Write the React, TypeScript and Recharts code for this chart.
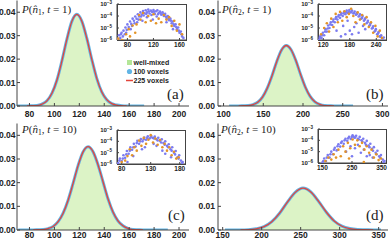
import React from 'react';
import {
  ComposedChart,
  Area,
  Line,
  XAxis,
  YAxis,
  ScatterChart,
  Scatter,
  Legend,
} from 'recharts';

// ---- main panels: probability curves ----
const nA = [70, 74, 78, 82, 86, 90, 94, 98, 102, 106, 110, 114, 118, 122, 126, 130, 134, 138, 142, 146, 150, 154, 158, 162, 166, 172];
const vox100A = [0, 0, 0, 0.0001, 0.0002, 0.0008, 0.0022, 0.0054, 0.011, 0.0192, 0.0284, 0.0361, 0.0391, 0.0362, 0.0289, 0.0199, 0.0118, 0.006, 0.0027, 0.001, 0.0004, 0.0001, 0, 0, 0, 0];
const vox225A = [null, null, 0, 0.0001, 0.0002, 0.0008, 0.0022, 0.0054, 0.011, 0.0192, 0.0284, 0.0361, 0.0391, 0.0362, 0.0289, 0.0199, 0.0118, 0.006, 0.0027, 0.001, 0.0004, 0.0001, 0, null, null, null];
const wellA = [null, null, 0, 0.0001, 0.0002, 0.0008, 0.0022, 0.0054, 0.011, 0.0192, 0.0284, 0.0361, 0.0391, 0.0362, 0.0289, 0.0199, 0.0118, 0.006, 0.0027, 0.001, 0.0004, 0.0001, 0, null, null, null];

const nB = [107, 113, 119, 125, 131, 137, 143, 149, 155, 161, 167, 173, 179, 185, 191, 197, 203, 209, 215, 221, 227, 233, 239, 245, 251, 257, 263];
const vox100B = [0, 0, 0, 0.0001, 0.0002, 0.0006, 0.0016, 0.0038, 0.0076, 0.0129, 0.019, 0.0239, 0.0258, 0.024, 0.0194, 0.0134, 0.008, 0.0041, 0.0018, 0.0007, 0.0002, 0.0001, 0, 0, 0, 0, 0];
const vox225B = [null, null, 0, 0.0001, 0.0002, 0.0006, 0.0016, 0.0038, 0.0076, 0.0129, 0.019, 0.0239, 0.0258, 0.024, 0.0194, 0.0134, 0.008, 0.0041, 0.0018, 0.0007, 0.0002, 0.0001, 0, null, null, null, null];
const wellB = [null, null, 0, 0.0001, 0.0002, 0.0006, 0.0016, 0.0038, 0.0076, 0.0129, 0.019, 0.0239, 0.0258, 0.024, 0.0194, 0.0134, 0.008, 0.0041, 0.0018, 0.0007, 0.0002, 0.0001, 0, null, null, null, null];

const nC = [71, 75, 79, 83, 87, 91, 95, 99, 103, 107, 111, 115, 119, 123, 127, 131, 135, 139, 143, 147, 151, 155, 159, 163, 167, 171, 175, 179, 183, 187, 191];
const vox100C = [0, 0, 0, 0, 0.0001, 0.0002, 0.0006, 0.0015, 0.0035, 0.0071, 0.0126, 0.0197, 0.0272, 0.033, 0.0352, 0.0331, 0.0276, 0.0204, 0.0132, 0.0076, 0.0039, 0.0018, 0.0007, 0.0002, 0.0001, 0, 0, 0, 0, 0, 0];
const vox225C = [null, null, null, 0, 0.0001, 0.0002, 0.0006, 0.0015, 0.0035, 0.0071, 0.0126, 0.0197, 0.0272, 0.033, 0.0352, 0.0331, 0.0276, 0.0204, 0.0132, 0.0076, 0.0039, 0.0018, 0.0007, 0.0002, 0.0001, 0, null, null, null, null, null];
const wellC = [null, null, null, 0, 0.0001, 0.0002, 0.0006, 0.0015, 0.0035, 0.0071, 0.0126, 0.0197, 0.0272, 0.033, 0.0352, 0.0331, 0.0276, 0.0204, 0.0132, 0.0076, 0.0039, 0.0018, 0.0007, 0.0002, 0.0001, 0, null, null, null, null, null];

const nD = [153, 163, 173, 183, 193, 203, 213, 223, 233, 243, 253, 263, 273, 283, 293, 303, 313, 323, 333, 343, 353];
const vox100D = [0, 0, 0, 0.0001, 0.0005, 0.0014, 0.0035, 0.0071, 0.0118, 0.0159, 0.0177, 0.0161, 0.0121, 0.0075, 0.0038, 0.0016, 0.0006, 0.0002, 0.0001, 0, 0];
const vox225D = [null, null, 0, 0.0001, 0.0005, 0.0014, 0.0035, 0.0071, 0.0118, 0.0159, 0.0177, 0.0161, 0.0121, 0.0075, 0.0038, 0.0016, 0.0006, 0.0002, 0.0001, 0, null];
const wellD = [null, null, 0, 0.0001, 0.0005, 0.0014, 0.0035, 0.0071, 0.0118, 0.0159, 0.0177, 0.0161, 0.0121, 0.0075, 0.0038, 0.0016, 0.0006, 0.0002, 0.0001, 0, null];

const yTicks = [0, 0.01, 0.02, 0.03, 0.04];
const xTicksA = [80, 100, 120, 140, 160, 180, 200];
const xTicksB = [100, 150, 200, 250, 300];
const xTicksD = [150, 200, 250, 300, 350];

// ---- insets: log-scale error scatter ([n, value]) ----
const insetAPurple = [
  [65, 1.2e-6], [67, 2.5e-6], [69, 1.5e-6], [71, 4e-6], [73, 2e-6], [74, 6e-6], [76, 3e-6], [77, 1.1e-5], [79, 7e-6], [80, 2e-5],
  [82, 1.2e-5], [84, 3.5e-5], [86, 2.2e-5], [88, 6e-5], [90, 4e-5], [92, 9e-5], [94, 6e-5], [96, 1.4e-4], [98, 9e-5], [100, 2e-4],
  [102, 1.3e-4], [104, 2.6e-4], [106, 1.7e-4], [108, 3e-4], [110, 2e-4], [112, 3.4e-4], [114, 1.6e-4], [116, 2.8e-4], [118, 2.2e-4],
  [120, 3.2e-4], [122, 1.5e-4], [124, 2.5e-4], [126, 3e-4], [128, 1.8e-4], [130, 2.4e-4], [132, 1.3e-4], [134, 2e-4], [136, 1e-4],
  [138, 1.5e-4], [140, 7e-5], [142, 1e-4], [144, 4.5e-5], [146, 6e-5], [148, 2.5e-5], [150, 3.5e-5], [152, 1.5e-5], [154, 2e-5],
  [156, 8e-6], [158, 1.1e-5], [160, 4e-6], [162, 5e-6], [164, 2e-6], [110, 8e-5], [125, 9e-5], [95, 3e-5], [140, 3e-5], [85, 8e-6], [150, 8e-6],
  [70, 3e-6], [78, 4e-6], [87, 1.5e-5], [91, 2.5e-5], [97, 5e-5], [101, 9e-5], [105, 1.1e-4], [109, 1.5e-4], [113, 2.4e-4], [117, 1.2e-4],
  [121, 2.3e-4], [127, 1.4e-4], [131, 1.8e-4], [135, 1.4e-4], [139, 9e-5], [143, 6e-5], [147, 4e-5], [151, 2e-5], [155, 1.2e-5],
  [159, 6e-6], [163, 3e-6], [166, 1.5e-6], [119, 5e-5], [103, 4e-5],
];
const insetAOrange = [
  [66, 1.3e-6], [72, 1e-6], [78, 3e-6], [82, 8e-6], [84, 2e-6], [88, 1.6e-5], [92, 4e-6], [94, 2e-5], [98, 1.2e-4], [100, 5e-5],
  [104, 1.8e-4], [108, 3e-5], [112, 1e-4], [116, 4e-5], [120, 1.4e-4], [124, 2.5e-5], [128, 6e-5], [132, 3e-5], [136, 1.2e-4],
  [140, 5e-5], [144, 8e-5], [148, 1.5e-5], [152, 4e-5], [156, 6e-6], [160, 2e-5], [164, 3e-6],
];
const insetBPurple = [
  [110, 1e-6], [113, 2e-6], [116, 1.5e-6], [119, 4e-6], [122, 2.5e-6], [125, 8e-6], [128, 5e-6], [131, 1.6e-5], [134, 1e-5], [137, 3e-5],
  [140, 1.8e-5], [143, 5e-5], [146, 3e-5], [149, 8e-5], [152, 5e-5], [155, 1.2e-4], [158, 7e-5], [161, 1.7e-4], [164, 1e-4], [167, 2.2e-4],
  [170, 1.4e-4], [173, 2.8e-4], [176, 1.8e-4], [179, 3.2e-4], [182, 2e-4], [185, 2.9e-4], [188, 1.6e-4], [191, 2.4e-4], [194, 1.3e-4],
  [197, 1.9e-4], [200, 9e-5], [203, 1.4e-4], [206, 6e-5], [209, 1e-4], [212, 4e-5], [215, 6.5e-5], [218, 2.5e-5], [221, 4e-5],
  [224, 1.5e-5], [227, 2.5e-5], [230, 9e-6], [233, 1.4e-5], [236, 5e-6], [239, 8e-6], [242, 3e-6], [245, 4.5e-6], [248, 2e-6],
  [251, 2.5e-6], [254, 1.3e-6], [257, 1.6e-6], [160, 2e-6], [170, 3e-6], [180, 6e-6], [190, 1.2e-5], [200, 4e-6], [210, 1.5e-5], [165, 1.5e-5], [150, 6e-6],
  [112, 1.5e-6], [118, 2.5e-6], [124, 5e-6], [130, 9e-6], [136, 2e-5], [142, 3.5e-5], [148, 6e-5], [154, 9e-5], [160, 1.3e-4],
  [166, 1.6e-4], [172, 2e-4], [178, 2.3e-4], [184, 2.2e-4], [190, 1.8e-4], [196, 1.5e-4], [202, 1e-4], [208, 7e-5], [214, 5e-5],
  [220, 3e-5], [226, 1.8e-5], [232, 1e-5], [238, 6e-6], [244, 3.5e-6], [250, 1.8e-6], [175, 4e-5], [195, 2.5e-5], [215, 8e-6], [185, 3e-6],
];
const insetBOrange = [
  [115, 3e-6], [122, 1e-5], [128, 2.5e-5], [133, 5e-6], [138, 6e-5], [143, 1.2e-5], [148, 1.5e-4], [153, 3e-5], [158, 2.2e-4], [163, 4e-5],
  [168, 2.5e-4], [173, 8e-5], [178, 1.5e-4], [183, 4e-4], [188, 1e-4], [193, 3e-5], [198, 2e-4], [203, 5e-5], [208, 1.2e-4], [213, 2e-5],
  [218, 8e-5], [223, 1.2e-5], [228, 3e-5], [233, 4e-6], [238, 1.5e-5], [243, 2e-6], [248, 6e-6], [253, 1.5e-6],
];
const insetCPurple = [
  [74, 1.2e-6], [77, 3e-6], [80, 1.8e-6], [83, 6e-6], [86, 3.5e-6], [89, 1.4e-5], [92, 8e-6], [95, 3e-5], [98, 1.8e-5], [101, 6e-5],
  [104, 3.5e-5], [107, 1.1e-4], [110, 6e-5], [113, 1.6e-4], [116, 1e-4], [119, 2.2e-4], [122, 1.4e-4], [125, 2.8e-4], [128, 1.8e-4],
  [131, 3e-4], [134, 2e-4], [137, 2.6e-4], [140, 1.5e-4], [143, 2.1e-4], [146, 1.1e-4], [149, 1.5e-4], [152, 7e-5], [155, 1e-4],
  [158, 4e-5], [161, 5.5e-5], [164, 2e-5], [167, 3e-5], [170, 1e-5], [173, 1.4e-5], [176, 4e-6], [179, 6e-6], [182, 2e-6], [185, 1.5e-6],
  [100, 5e-6], [120, 3e-5], [150, 1.5e-5], [165, 4e-6], [90, 1.5e-6], [140, 4e-5],
  [76, 2e-6], [82, 3e-6], [88, 7e-6], [94, 1.5e-5], [100, 3e-5], [106, 7e-5], [112, 1e-4], [118, 1.5e-4], [124, 2e-4], [130, 2.2e-4],
  [136, 1.8e-4], [142, 1.2e-4], [148, 8e-5], [154, 5e-5], [160, 3e-5], [166, 1.5e-5], [172, 7e-6], [178, 3e-6], [184, 1.2e-6],
  [115, 2e-5], [135, 6e-5], [155, 8e-6],
];
const insetCOrange = [
  [80, 1.5e-6], [86, 2e-6], [90, 5e-6], [94, 2e-5], [98, 6e-6], [102, 3e-5], [106, 1.5e-5], [110, 1.2e-4], [114, 4e-5], [118, 2e-4],
  [122, 6e-5], [126, 1.4e-4], [130, 3.5e-4], [134, 8e-5], [138, 1.8e-4], [142, 5e-5], [146, 1.3e-4], [150, 3e-5], [154, 6e-5],
  [158, 1.5e-5], [162, 3e-5], [166, 6e-6], [170, 1.2e-5], [174, 3e-6], [178, 4e-6],
];
const insetDPurple = [
  [150, 1.1e-6], [156, 2.5e-6], [162, 1.5e-6], [168, 5e-6], [174, 3e-6], [180, 1e-5], [186, 6e-6], [192, 2.2e-5], [198, 1.3e-5],
  [204, 4.5e-5], [210, 2.8e-5], [216, 8e-5], [222, 5e-5], [228, 1.4e-4], [234, 9e-5], [240, 2e-4], [246, 1.3e-4], [252, 2.8e-4],
  [258, 1.7e-4], [264, 2.5e-4], [270, 1.4e-4], [276, 2e-4], [282, 1e-4], [288, 1.4e-4], [294, 6e-5], [300, 9e-5], [306, 3.5e-5],
  [312, 5e-5], [318, 1.8e-5], [324, 2.5e-5], [330, 8e-6], [336, 1.2e-5], [342, 4e-6], [348, 5e-6], [354, 2e-6], [360, 1.5e-6],
  [230, 1e-5], [260, 2e-5], [280, 8e-6], [300, 4e-6], [250, 4e-6], [320, 3e-6], [270, 4e-5],
  [153, 1.5e-6], [165, 3e-6], [177, 6e-6], [189, 1.5e-5], [201, 3e-5], [213, 6e-5], [225, 1e-4], [237, 1.5e-4], [249, 2e-4],
  [255, 2.2e-4], [261, 1.8e-4], [273, 1.2e-4], [285, 8e-5], [297, 4e-5], [309, 2.5e-5], [321, 1.2e-5], [333, 6e-6], [345, 3e-6],
  [357, 1.2e-6], [245, 3e-5], [290, 1.5e-5], [310, 5e-6],
];
const insetDOrange = [
  [160, 1.5e-6], [170, 3e-6], [180, 2e-6], [188, 6e-6], [196, 3e-6], [204, 1.5e-5], [212, 4e-6], [220, 3e-5], [228, 1e-5], [236, 6e-5],
  [244, 2e-5], [252, 1.2e-4], [260, 4e-5], [268, 1e-4], [276, 3e-5], [284, 6e-5], [292, 1.5e-5], [300, 3e-5], [308, 8e-6], [316, 1.5e-5],
  [324, 3e-6], [332, 6e-6], [340, 1.8e-6], [348, 2.5e-6], [240, 2.5e-6], [290, 1.2e-6],
];
const logTicks = [1e-6, 1e-5, 1e-4, 1e-3];

const legendNames = ['well-mixed', '100 voxels', '225 voxels'];

const SANS = "'Liberation Sans', Arial, sans-serif";
const SERIF = "'Liberation Serif', 'Times New Roman', serif";
const FRAME = '#444';
const GREEN_FILL = '#dcf3c6';
const GREEN_SWATCH = '#b4e698';
const BLUE = '#62b5e5';
const RED = '#e2453c';
const ORANGE = '#e39428';
const PURPLE = '#7b7bf0';

const LegendBox = () => (
  <div style={{ fontFamily: SANS, fontWeight: 'bold', fontSize: 7, color: '#222', lineHeight: '9px' }}>
    {legendNames.map((name, i) => (
      <div key={name} style={{ display: 'flex', alignItems: 'center', height: 9, whiteSpace: 'nowrap' }}>
        <svg width={8} height={9} style={{ display: 'block' }}>
          {i === 0 && <rect x={1} y={2} width={5} height={5} fill={GREEN_SWATCH} />}
          {i === 1 && <circle cx={3.5} cy={4.5} r={2.6} fill={BLUE} />}
          {i === 2 && <line x1={0} x2={7} y1={4.5} y2={4.5} stroke={RED} strokeWidth={1.5} />}
        </svg>
        <span>{name}</span>
      </div>
    ))}
  </div>
);

type PanelProps = {
  left: number;
  top: number;
  width: number;
  height: number;
  marginTop: number;
  marginRight: number;
  yAxisWidth: number;
  yTickMargin: number;
  xAxisHeight: number;
  xTickMargin: number;
  xs: number[];
  vox100: number[];
  vox225: (number | null)[];
  well: (number | null)[];
  xDomain: [number, number];
  xTicks: number[];
  legend?: boolean;
};

const tickFont = { fontSize: 8.5, fill: '#222', fontWeight: 'bold', fontFamily: SANS };

const Panel = (p: PanelProps) => {
  const data = p.xs.map((n, i) => ({ n, well: p.well[i], v100: p.vox100[i], v225: p.vox225[i] }));
  return (
    <div style={{ position: 'absolute', left: p.left, top: p.top }}>
      <ComposedChart
        width={p.width}
        height={p.height}
        data={data}
        margin={{ top: p.marginTop, right: p.marginRight, bottom: 0, left: 0 }}
      >
        <XAxis
          dataKey="n"
          type="number"
          domain={p.xDomain}
          ticks={p.xTicks}
          interval={0}
          allowDataOverflow
          height={p.xAxisHeight}
          tickSize={-3}
          tickMargin={p.xTickMargin}
          tick={tickFont}
          axisLine={{ stroke: FRAME }}
          tickLine={{ stroke: FRAME }}
        />
        <XAxis
          xAxisId="top"
          orientation="top"
          type="number"
          domain={p.xDomain}
          ticks={p.xTicks}
          allowDataOverflow
          height={0}
          tickSize={-3}
          tick={false}
          axisLine={{ stroke: FRAME }}
          tickLine={{ stroke: FRAME }}
        />
        <YAxis
          type="number"
          domain={[0, 0.045]}
          ticks={yTicks}
          interval={0}
          allowDataOverflow
          width={p.yAxisWidth}
          tickSize={-3}
          tickMargin={p.yTickMargin}
          tickFormatter={(v: number) => v.toFixed(2)}
          tick={tickFont}
          axisLine={{ stroke: FRAME }}
          tickLine={{ stroke: FRAME }}
        />
        <YAxis
          yAxisId="right"
          orientation="right"
          type="number"
          domain={[0, 0.045]}
          ticks={yTicks}
          allowDataOverflow
          width={0}
          tickSize={-3}
          tick={false}
          axisLine={{ stroke: FRAME }}
          tickLine={{ stroke: FRAME }}
        />
        <Area
          dataKey="well"
          name="well-mixed"
          type="monotone"
          fill={GREEN_FILL}
          fillOpacity={1}
          stroke="none"
          isAnimationActive={false}
        />
        <Line
          dataKey="v100"
          name="100 voxels"
          type="monotone"
          stroke={BLUE}
          strokeWidth={3}
          dot={false}
          isAnimationActive={false}
        />
        <Line
          dataKey="v225"
          name="225 voxels"
          type="monotone"
          stroke={RED}
          strokeWidth={1.3}
          dot={false}
          isAnimationActive={false}
        />
        {p.legend && (
          <Legend
            layout="vertical"
            align="center"
            verticalAlign="middle"
            content={() => <LegendBox />}
            wrapperStyle={{ left: 125.5, top: 57.5, width: 62 }}
          />
        )}
      </ComposedChart>
    </div>
  );
};

const PowTick = (props: any) => {
  const { x, y, payload } = props;
  const e = Math.round(Math.log10(payload.value));
  return (
    <text x={x} y={y} dy={2} textAnchor="end" fontSize={6} fontFamily={SANS} fontWeight="bold" fill="#222">
      10
      <tspan dy={-2.5} fontSize={4.5}>{'\u2212' + Math.abs(e)}</tspan>
    </text>
  );
};

type InsetProps = {
  left: number;
  top: number;
  width: number;
  height: number;
  xDomain: [number, number];
  xTicks: number[];
  purple: number[][];
  orange: number[][];
};

const dotShape = (color: string) => (s: any) => <circle cx={s.cx} cy={s.cy} r={1.3} fill={color} />;

// extra room above the inset plot box so the 10^-3 label is not clipped
const PAD = 5;

const Inset = (p: InsetProps) => {
  const purple = p.purple.map(([x, y]) => ({ x, y }));
  const orange = p.orange.map(([x, y]) => ({ x, y }));
  const small = { fontSize: 6.5, fill: '#222', fontWeight: 'bold', fontFamily: SANS };
  // plot box of the inset (yAxis width 22, margins top 2 / right 2, xAxis height 12)
  const boxW = p.width - 22 - 2;
  const boxH = p.height - 2 - 12;
  return (
    <div style={{ position: 'absolute', left: p.left, top: p.top - PAD, width: p.width, height: p.height + PAD }}>
      <div
        style={{
          position: 'absolute',
          left: 21.5,
          top: 1.5 + PAD,
          width: boxW + 1,
          height: boxH + 1,
          border: `1px solid ${FRAME}`,
          boxSizing: 'border-box',
          background: '#fff',
        }}
      />
      <div style={{ position: 'absolute', left: 0, top: 0 }}>
        <ScatterChart width={p.width} height={p.height + PAD} margin={{ top: 2 + PAD, right: 2, bottom: 0, left: 0 }}>
          <XAxis
            dataKey="x"
            type="number"
            domain={p.xDomain}
            ticks={p.xTicks}
            interval={0}
            allowDataOverflow
            height={12}
            tickSize={-2}
            tickMargin={4.5}
            tick={small}
            axisLine={{ stroke: FRAME }}
            tickLine={{ stroke: FRAME }}
          />
          <XAxis
            xAxisId="top"
            orientation="top"
            type="number"
            domain={p.xDomain}
            ticks={p.xTicks}
            allowDataOverflow
            height={0}
            tickSize={-2}
            tick={false}
            axisLine={{ stroke: FRAME }}
            tickLine={{ stroke: FRAME }}
          />
          <YAxis
            dataKey="y"
            type="number"
            scale="log"
            domain={[1e-6, 1e-3]}
            ticks={logTicks}
            interval={0}
            allowDataOverflow
            width={22}
            tickSize={-2}
            tickMargin={7}
            tick={<PowTick />}
            axisLine={{ stroke: FRAME }}
            tickLine={{ stroke: FRAME }}
          />
          <YAxis
            yAxisId="right"
            orientation="right"
            type="number"
            scale="log"
            domain={[1e-6, 1e-3]}
            ticks={logTicks}
            allowDataOverflow
            width={0}
            tickSize={-2}
            tick={false}
            axisLine={{ stroke: FRAME }}
            tickLine={{ stroke: FRAME }}
          />
          <Scatter data={purple} fill={PURPLE} shape={dotShape(PURPLE)} isAnimationActive={false} />
          <Scatter data={orange} fill={ORANGE} shape={dotShape(ORANGE)} isAnimationActive={false} />
        </ScatterChart>
      </div>
    </div>
  );
};

const Title = ({ x, y, idx, t }: { x: number; y: number; idx: string; t: string }) => (
  <text x={x} y={y} fontFamily={SERIF} fontSize={11} fill="#222">
    <tspan fontStyle="italic">P</tspan>
    <tspan>(</tspan>
    <tspan fontStyle="italic">{'n\u0302'}</tspan>
    <tspan fontSize={7.5} dy={2}>{idx}</tspan>
    <tspan dy={-2}>{', '}</tspan>
    <tspan fontStyle="italic">t</tspan>
    <tspan>{' = ' + t + ')'}</tspan>
  </text>
);

export default function App() {
  return (
    <div style={{ position: 'absolute', left: 0, top: 0, width: 390, height: 240, background: '#fff', overflow: 'hidden' }}>
      <Panel
        left={0} top={0} width={195} height={120} marginTop={0.5} marginRight={6}
        yAxisWidth={17} yTickMargin={4.5} xAxisHeight={14} xTickMargin={7.5}
        xs={nA} vox100={vox100A} vox225={vox225A} well={wellA}
        xDomain={[70, 208]} xTicks={xTicksA} legend
      />
      <Panel
        left={195} top={0} width={195} height={120} marginTop={0.5} marginRight={2}
        yAxisWidth={23} yTickMargin={6} xAxisHeight={14} xTickMargin={7.5}
        xs={nB} vox100={vox100B} vox225={vox225B} well={wellB}
        xDomain={[93, 307]} xTicks={xTicksB}
      />
      <Panel
        left={0} top={120} width={195} height={120} marginTop={3.5} marginRight={6}
        yAxisWidth={17} yTickMargin={4.5} xAxisHeight={10} xTickMargin={5}
        xs={nC} vox100={vox100C} vox225={vox225C} well={wellC}
        xDomain={[70, 208]} xTicks={xTicksA}
      />
      <Panel
        left={195} top={120} width={195} height={120} marginTop={3.5} marginRight={2}
        yAxisWidth={23} yTickMargin={6} xAxisHeight={10} xTickMargin={5}
        xs={nD} vox100={vox100D} vox225={vox225D} well={wellD}
        xDomain={[144, 362]} xTicks={xTicksD}
      />
      <Inset left={95} top={2} width={93} height={50} xDomain={[64, 170]} xTicks={[80, 120, 160]} purple={insetAPurple} orange={insetAOrange} />
      <Inset left={296} top={2} width={92} height={50} xDomain={[108, 262]} xTicks={[120, 180, 240]} purple={insetBPurple} orange={insetBOrange} />
      <Inset left={95} top={128} width={92} height={48} xDomain={[72, 189]} xTicks={[80, 130, 180]} purple={insetCPurple} orange={insetCOrange} />
      <Inset left={296} top={127} width={92} height={48} xDomain={[135, 365]} xTicks={[150, 250, 350]} purple={insetDPurple} orange={insetDOrange} />
      <svg width={390} height={240} style={{ position: 'absolute', left: 0, top: 0, pointerEvents: 'none' }}>
        <Title x={22} y={12.5} idx="1" t="1" />
        <Title x={222} y={12.5} idx="2" t="1" />
        <Title x={22} y={132.5} idx="1" t="10" />
        <Title x={221} y={132.5} idx="2" t="10" />
        <text x={167} y={99} fontFamily={SERIF} fontSize={15} fill="#222">(a)</text>
        <text x={366} y={99} fontFamily={SERIF} fontSize={15} fill="#222">(b)</text>
        <text x={168} y={220} fontFamily={SERIF} fontSize={15} fill="#222">(c)</text>
        <text x={366} y={220} fontFamily={SERIF} fontSize={15} fill="#222">(d)</text>
      </svg>
    </div>
  );
}
